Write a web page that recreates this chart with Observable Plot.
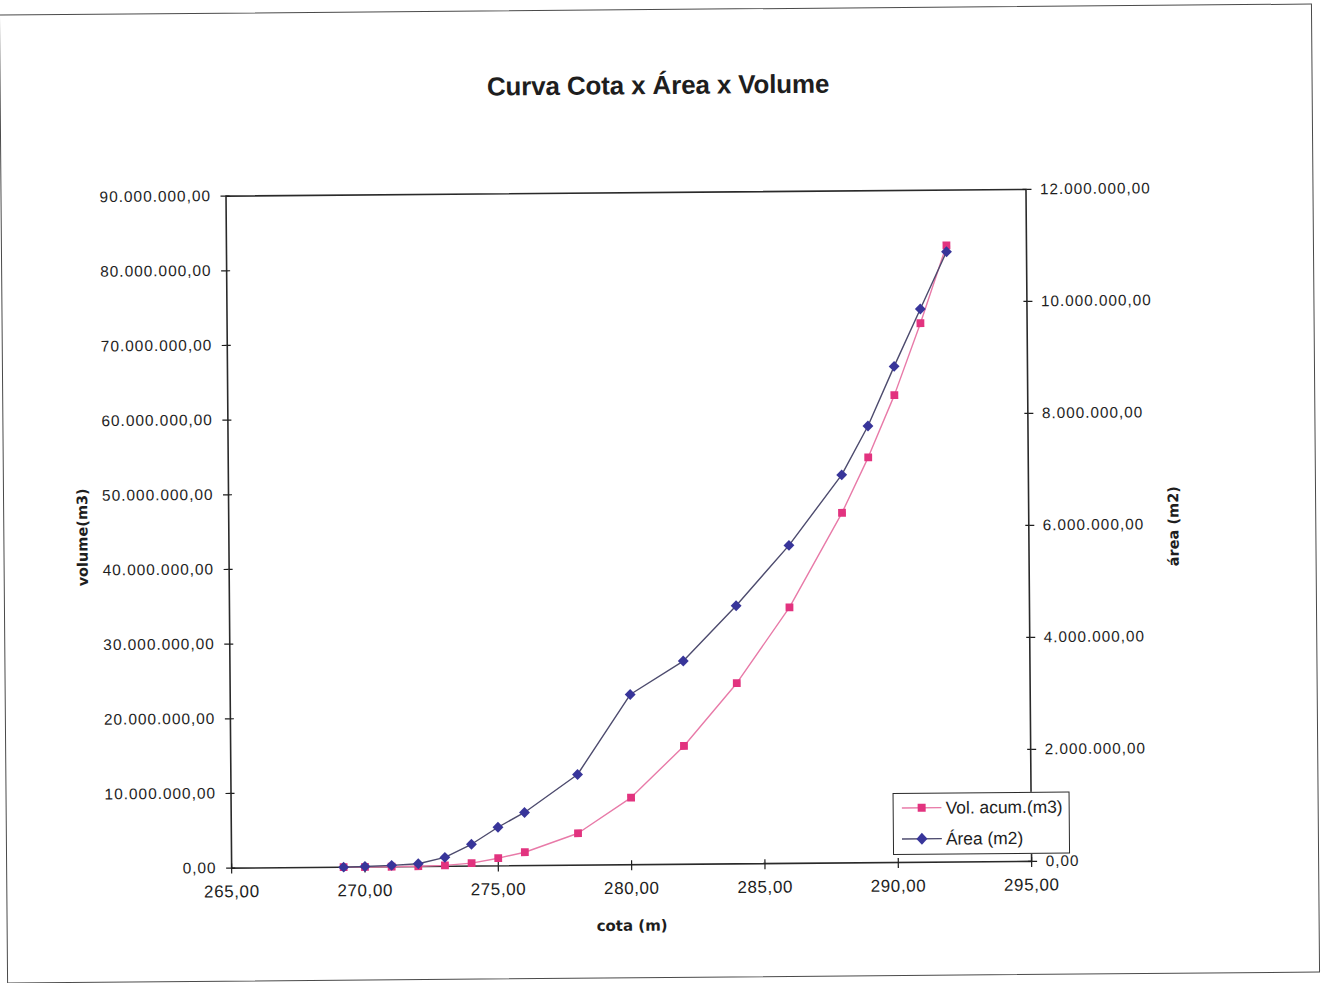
<!DOCTYPE html>
<html lang="pt-BR">
<head>
<meta charset="utf-8">
<title>Curva Cota x Área x Volume</title>
<script src="https://cdn.jsdelivr.net/npm/d3@7"></script>
<script src="https://cdn.jsdelivr.net/npm/@observablehq/plot@0.6"></script>
<style>
  html, body { margin: 0; padding: 0; background: #fff; overflow: hidden; }
  #page {
    position: relative; width: 1323px; height: 983px;
    transform: rotate(-0.48deg); transform-origin: 661.5px 491.5px;
    font-family: "Liberation Sans", Arial, sans-serif; color: #1e1e1e;
  }
  #frame {
    position: absolute; left: 3px; top: 9px; width: 1311px; height: 967px;
    border: 1.6px solid #4a4a4a;
  }
  #title {
    position: absolute; left: 0; width: 1323px; top: 70px; line-height: 30px;
    text-align: center; font-weight: bold; font-size: 26px; letter-spacing: -0.15px;
  }
  #chart { position: absolute; left: 0; top: 0; }
  #chart g[aria-label="y-axis tick label"] text { letter-spacing: 1px; }
  #chart g[aria-label="x-axis tick label"] text { letter-spacing: 0.6px; }
  #legend {
    position: absolute; left: 890px; top: 795px; width: 175px; height: 60px;
    border: 1.6px solid #2a2a2a; background: #fff; font-size: 17.4px;
  }
  .row { position: absolute; left: 0; height: 22px; display: flex; align-items: center; }
  .row svg { margin-left: 8px; margin-right: 4px; }
</style>
</head>
<body>
<div id="page">
  <div id="frame"></div>
  <div id="title">Curva Cota x Área x Volume</div>
  <div id="chart"></div>
  <div id="legend"></div>
</div>
<script>
// Elevation (m) of each surveyed level
const cota = [269.2, 270, 271, 272, 273, 274, 275, 276, 278, 280, 282, 284, 286, 288, 289, 290, 291, 292];
// Accumulated volume (m3) at each level
const volume = [0, 0, 10000, 40000, 130000, 400000, 1030000, 1800000, 4280000, 9000000,
  15850000, 24200000, 34300000, 46900000, 54300000, 62600000, 72200000, 82600000];
// Flooded area (m2) at each level
const area = [0, 8000, 25000, 50000, 160000, 390000, 690000, 950000, 1620000, 3040000,
  3630000, 4610000, 5680000, 6930000, 7800000, 8860000, 9880000, 10900000];

// Axis ticks
const xTicks = [265, 270, 275, 280, 285, 290, 295];
const volumeTicks = [0, 10000000, 20000000, 30000000, 40000000, 50000000, 60000000, 70000000, 80000000, 90000000];
const areaTicks = [0, 2000000, 4000000, 6000000, 8000000, 10000000, 12000000];

const seriesNames = ["Vol. acum.(m3)", "Área (m2)"];

const pink = "#e2337f";
const pinkLine = "#e87aa8";
const blue = "#38359a";
const blueLine = "#4d4b6e";

// Both series share one y scale; area is mapped onto the volume range
const volMax = volumeTicks[volumeTicks.length - 1];
const areaMax = areaTicks[areaTicks.length - 1];
const k = volMax / areaMax;

const rows = cota.map((c, i) => ({cota: c, volume: volume[i], area: area[i]}));

const fmt = d3.formatLocale({decimal: ",", thousands: ".", grouping: [3], currency: ["", ""]}).format(",.2f");

const titleFont = {fontWeight: "bold", fontSize: 14.5, fontFamily: "'DejaVu Sans', sans-serif", fill: "#1e1e1e"};

const chart = Plot.plot({
  width: 1323,
  height: 983,
  marginLeft: 228,
  marginRight: 295,
  marginTop: 192,
  marginBottom: 119,
  style: {fontFamily: "'Liberation Sans', Arial, sans-serif", background: "transparent", color: "#1e1e1e", overflow: "visible"},
  x: {domain: [xTicks[0], xTicks[xTicks.length - 1]]},
  y: {domain: [0, volMax]},
  marks: [
    Plot.frame({stroke: "#2a2a2a", strokeWidth: 1.6}),
    // left axis: volume
    Plot.axisY(volumeTicks, {anchor: "left", tickSize: 5, tickPadding: 10, tickFormat: fmt, fontSize: 15.4, label: null, strokeWidth: 1.2}),
    Plot.axisY(volumeTicks, {anchor: "left", tickSize: 4, dx: 4, tickFormat: () => "", label: null, strokeWidth: 1.2}),
    // right axis: area
    Plot.axisY(areaTicks.map(a => a * k), {anchor: "right", tickSize: 5, tickPadding: 9, tickFormat: d => fmt(d / k), fontSize: 15.3, label: null, strokeWidth: 1.2}),
    Plot.axisY(areaTicks.map(a => a * k), {anchor: "right", tickSize: 4, dx: -4, tickFormat: () => "", label: null, strokeWidth: 1.2}),
    // bottom axis: elevation
    Plot.axisX(xTicks, {anchor: "bottom", tickSize: 6, tickPadding: 11, tickFormat: fmt, fontSize: 17, label: null, strokeWidth: 1.2}),
    Plot.axisX(xTicks, {anchor: "bottom", tickSize: 4, dy: -4, tickFormat: () => "", label: null, strokeWidth: 1.2}),
    // axis titles
    Plot.text(["volume(m3)"], {text: d => d, frameAnchor: "left", textAnchor: "middle", rotate: -90, dx: -146, dy: 4, ...titleFont}),
    Plot.text(["área (m2)"], {text: d => d, frameAnchor: "right", textAnchor: "middle", rotate: -90, dx: 145, dy: 2, ...titleFont}),
    Plot.text(["cota (m)"], {text: d => d, frameAnchor: "bottom", dy: 66, ...titleFont, fontSize: 15}),
    // series
    Plot.line(rows, {x: "cota", y: "volume", stroke: pinkLine, strokeWidth: 1.4}),
    Plot.line(rows, {x: "cota", y: d => d.area * k, stroke: blueLine, strokeWidth: 1.4}),
    Plot.dot(rows, {x: "cota", y: "volume", symbol: "square", r: 4.4, fill: pink, stroke: "none"}),
    Plot.dot(rows, {x: "cota", y: d => d.area * k, symbol: "diamond2", r: 4.9, fill: blue, stroke: "none"})
  ]
});
document.getElementById("chart").appendChild(chart);

// legend
const legend = document.getElementById("legend");
const entries = [
  {name: seriesNames[0], line: pinkLine, color: pink, shape: "square"},
  {name: seriesNames[1], line: blueLine, color: blue, shape: "diamond"}
];
entries.forEach((e, i) => {
  const row = document.createElement("div");
  row.className = "row";
  row.style.top = (i === 0 ? 3 : 34) + "px";
  const marker = e.shape === "square"
    ? `<rect x="16" y="7" width="8" height="8" fill="${e.color}"/>`
    : `<path d="M20 5 L25.5 11 L20 17 L14.5 11 Z" fill="${e.color}"/>`;
  row.innerHTML = `<svg width="40" height="22"><line x1="0" x2="40" y1="11" y2="11" stroke="${e.line}" stroke-width="1.4"/>${marker}</svg><span>${e.name}</span>`;
  legend.appendChild(row);
});
</script>
</body>
</html>
